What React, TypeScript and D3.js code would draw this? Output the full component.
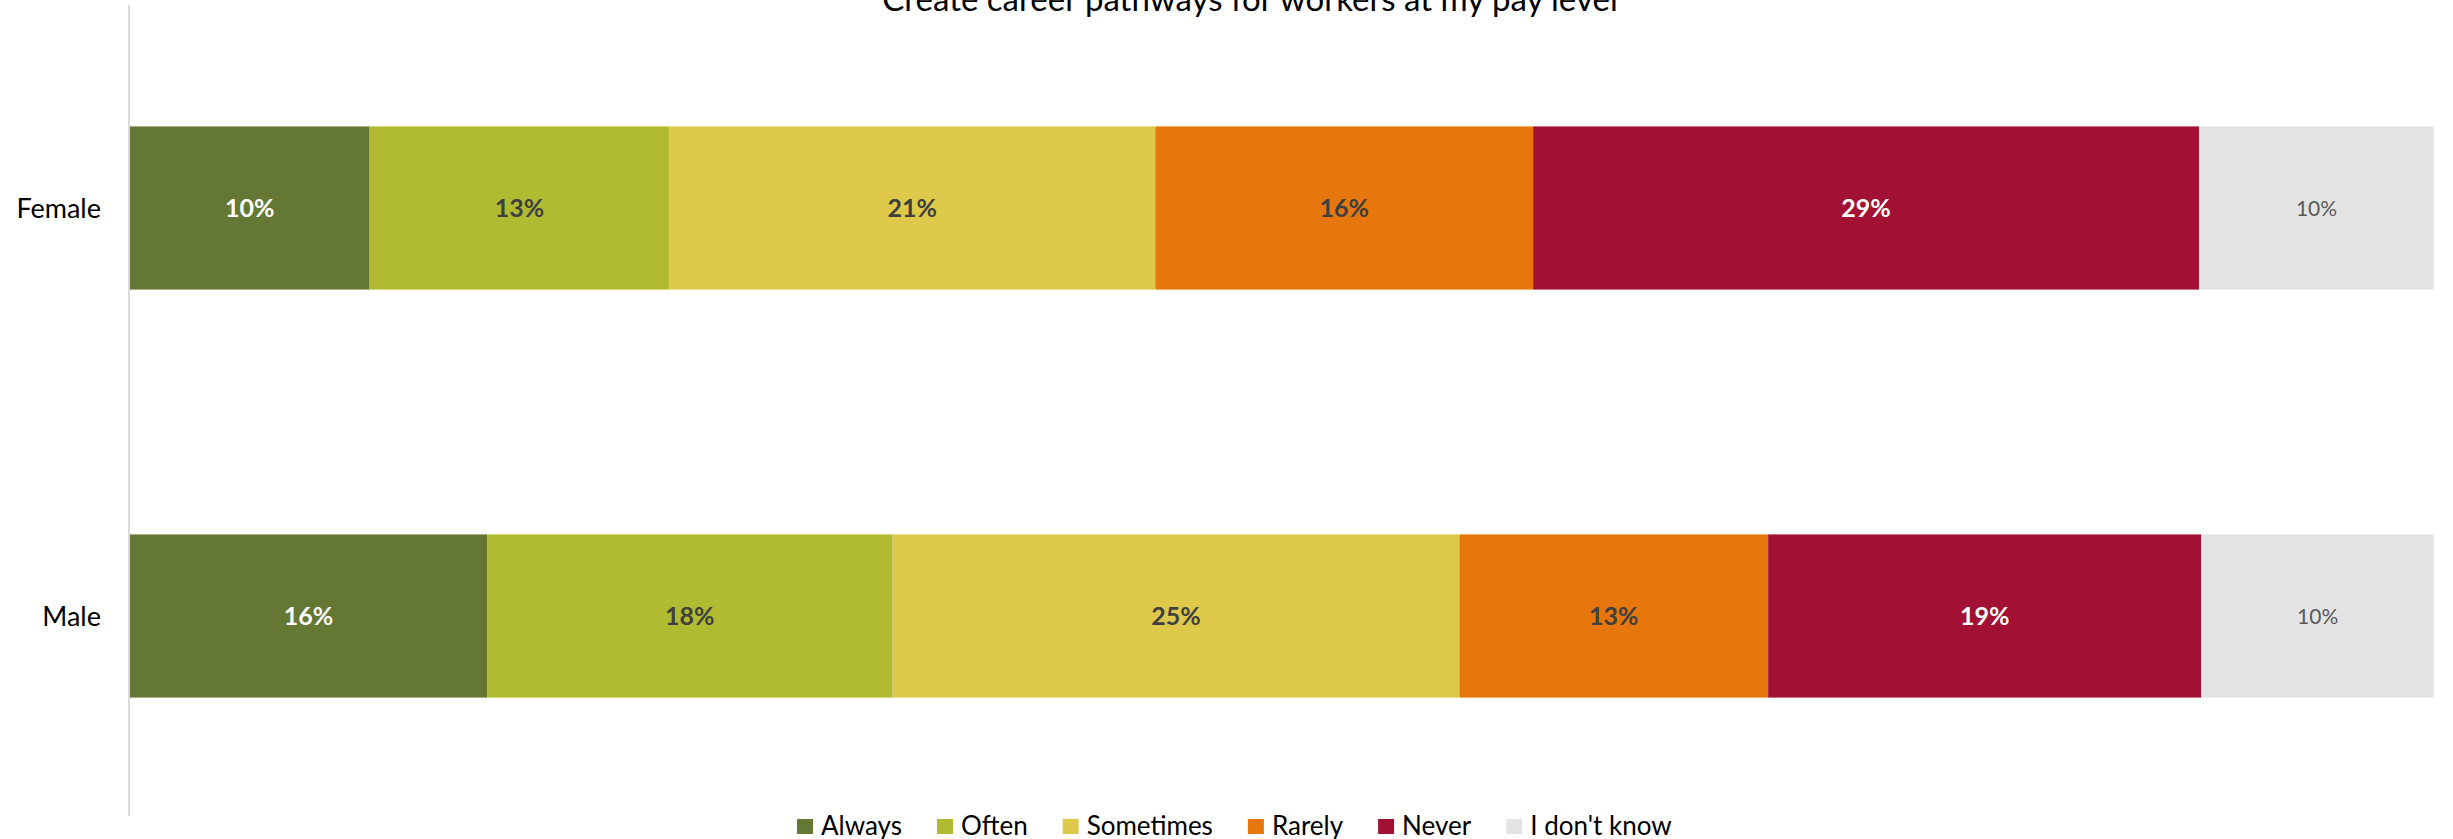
import React, { useEffect, useRef } from "react";
import * as d3 from "d3";

const categories = ["Female", "Male"];
const seriesNames = ["Always", "Often", "Sometimes", "Rarely", "Never", "I don't know"];
const femaleValues = [10.4, 13.0, 21.1, 16.4, 28.9, 10.2];
const maleValues = [15.5, 17.6, 24.6, 13.4, 18.8, 10.1];
const femaleLabels = ["10%", "13%", "21%", "16%", "29%", "10%"];
const maleLabels = ["16%", "18%", "25%", "13%", "19%", "10%"];
const seriesColors = ["#647733", "#b1bb31", "#dfc94b", "#e7770d", "#a21133", "#e4e4e4"];
const labelColors = ["#ffffff", "#404040", "#404040", "#404040", "#ffffff", "#595959"];
const labelWeights = ["bold", "bold", "bold", "bold", "bold", "normal"];
const title = "Create career pathways for workers at my pay level";

export default function App() {
  const chartRef = useRef<SVGSVGElement>(null);

  useEffect(() => {
    if (!chartRef.current) return;
    const svg = d3.select(chartRef.current);
    svg.selectAll("*").remove();

    const W = 2453;
    const margin = { top: 4, right: 19, bottom: 19, left: 130 };
    const H = 839;
    const font = "Lato, 'Open Sans', sans-serif";

    const x = d3.scaleLinear().domain([0, 100]).range([margin.left, W - margin.right]);
    const y = d3
      .scaleBand()
      .domain(categories)
      .range([margin.top, H - margin.bottom])
      .paddingInner(0.6)
      .paddingOuter(0.3);

    const rows = [
      { cat: "Female", values: femaleValues, labels: femaleLabels },
      { cat: "Male", values: maleValues, labels: maleLabels },
    ];

    // title (cut off at the top, like the original export)
    svg
      .append("text")
      .attr("x", 1250)
      .attr("y", 11)
      .attr("text-anchor", "middle")
      .attr("font-family", font)
      .attr("font-size", 33)
      .attr("fill", "#000")
      .text(title);

    // vertical category axis line
    svg
      .append("line")
      .attr("x1", margin.left - 1)
      .attr("x2", margin.left - 1)
      .attr("y1", 5)
      .attr("y2", 816)
      .attr("stroke", "#d9d9d9")
      .attr("stroke-width", 2);

    rows.forEach((row) => {
      let acc = 0;
      const g = svg.append("g");
      row.values.forEach((v, i) => {
        const x0 = x(acc);
        const x1 = x(acc + v);
        acc += v;
        g.append("rect")
          .attr("x", x0)
          .attr("y", y(row.cat)!)
          .attr("width", x1 - x0)
          .attr("height", y.bandwidth())
          .attr("fill", seriesColors[i]);
        g.append("text")
          .attr("x", (x0 + x1) / 2)
          .attr("y", y(row.cat)! + y.bandwidth() / 2)
          .attr("dy", "0.37em")
          .attr("text-anchor", "middle")
          .attr("font-family", font)
          .attr("font-size", i === 5 ? 21 : 25)
          .attr("font-weight", labelWeights[i])
          .attr("fill", labelColors[i])
          .text(row.labels[i]);
      });

      svg
        .append("text")
        .attr("x", 101)
        .attr("y", y(row.cat)! + y.bandwidth() / 2)
        .attr("dy", "0.36em")
        .attr("text-anchor", "end")
        .attr("font-family", font)
        .attr("font-size", 27)
        .attr("fill", "#000")
        .text(row.cat);
    });

    // legend
    const legend = svg.append("g").attr("font-family", font).attr("font-size", 26);
    let lx = 797;
    seriesNames.forEach((name, i) => {
      legend
        .append("rect")
        .attr("x", lx)
        .attr("y", 819)
        .attr("width", 16)
        .attr("height", 15)
        .attr("fill", seriesColors[i]);
      const t = legend
        .append("text")
        .attr("x", lx + 24)
        .attr("y", 835)
        .attr("fill", "#000")
        .text(name);
      const w = (t.node() as SVGTextElement).getComputedTextLength();
      lx += 24 + w + 35;
    });
  }, []);

  return (
    <div style={{ position: "absolute", left: 0, top: 0 }}>
      <svg ref={chartRef} width={2453} height={839} style={{ display: "block", background: "#fff" }} />
    </div>
  );
}
